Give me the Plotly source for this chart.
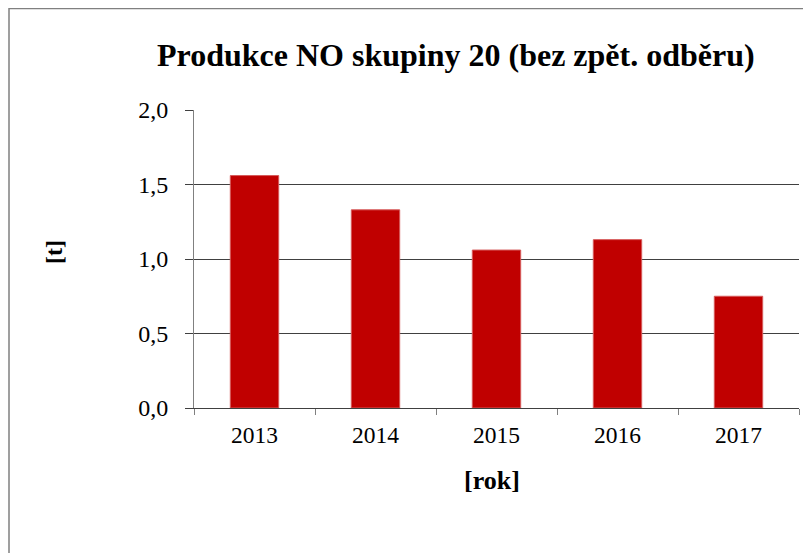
import plotly.graph_objects as go

years = ["2013", "2014", "2015", "2016", "2017"]
values = [1.56, 1.33, 1.06, 1.13, 0.75]
y_ticks = [0.0, 0.5, 1.0, 1.5, 2.0]
y_tick_labels = ["0,0", "0,5", "1,0", "1,5", "2,0"]
title_text = "Produkce NO skupiny 20 (bez zpět. odběru)"
x_title = "[rok]"
y_title = "[t]"

OFF = 8  # page body margin
W, H = 811 - OFF, 553 - OFF
L, T = 194 - OFF, 110 - OFF
R = W - (799 - OFF)
B = H - (408 - OFF)
pw, ph = W - L - R, H - T - B

def px_x(px):  # page pixel -> paper x
    return (px - OFF - L) / pw

def px_y(py):  # page pixel -> paper y
    return (H - B - (py - OFF)) / ph

FONT = "Liberation Serif, Times New Roman, serif"

fig = go.Figure()
fig.add_trace(go.Bar(
    x=years, y=values,
    marker=dict(color="#C00000", line=dict(color="#d65a5a", width=1)),
    width=0.4,
))

fig.update_layout(
    width=W, height=H,
    margin=dict(l=L, r=R, t=T, b=B),
    paper_bgcolor="white", plot_bgcolor="white",
    showlegend=False,
    font=dict(family=FONT, color="black"),
    xaxis=dict(
        type="category",
        showgrid=False,
        showline=True, linecolor="#404040", linewidth=1,
        ticks="outside", tickson="boundaries", ticklen=6, tickcolor="#808080",
        tickfont=dict(family=FONT, size=23.5, color="black"),
        ticklabelstandoff=6,
    ),
    yaxis=dict(
        range=[0, 2.0],
        tickvals=y_ticks, ticktext=y_tick_labels,
        showgrid=True, gridcolor="#404040", gridwidth=1,
        zeroline=False,
        showline=True, linecolor="#808080", linewidth=1,
        ticks="outside", ticklen=8, tickcolor="#404040",
        tickfont=dict(family=FONT, size=24, color="black"),
        ticklabelstandoff=12,
    ),
    shapes=[dict(
        type="rect", xref="paper", yref="paper",
        x0=px_x(9), x1=px_x(840), y0=px_y(600), y1=px_y(8.5),
        line=dict(color="#808080", width=1.5), fillcolor="rgba(0,0,0,0)",
        layer="below",
    )],
    annotations=[
        dict(text=f"<b>{title_text}</b>", xref="paper", yref="paper",
             x=px_x(455.5), y=px_y(55), showarrow=False,
             xanchor="center", yanchor="middle",
             font=dict(family=FONT, size=32, color="black")),
        dict(text=f"<b>{x_title}</b>", xref="paper", yref="paper",
             x=px_x(491.5), y=px_y(480), showarrow=False,
             xanchor="center", yanchor="middle",
             font=dict(family=FONT, size=26, color="black")),
        dict(text=f"<b>{y_title}</b>", xref="paper", yref="paper",
             x=px_x(54), y=px_y(252), showarrow=False, textangle=-90,
             xanchor="center", yanchor="middle",
             font=dict(family=FONT, size=24, color="black")),
    ],
)

fig.write_html("out.html")
